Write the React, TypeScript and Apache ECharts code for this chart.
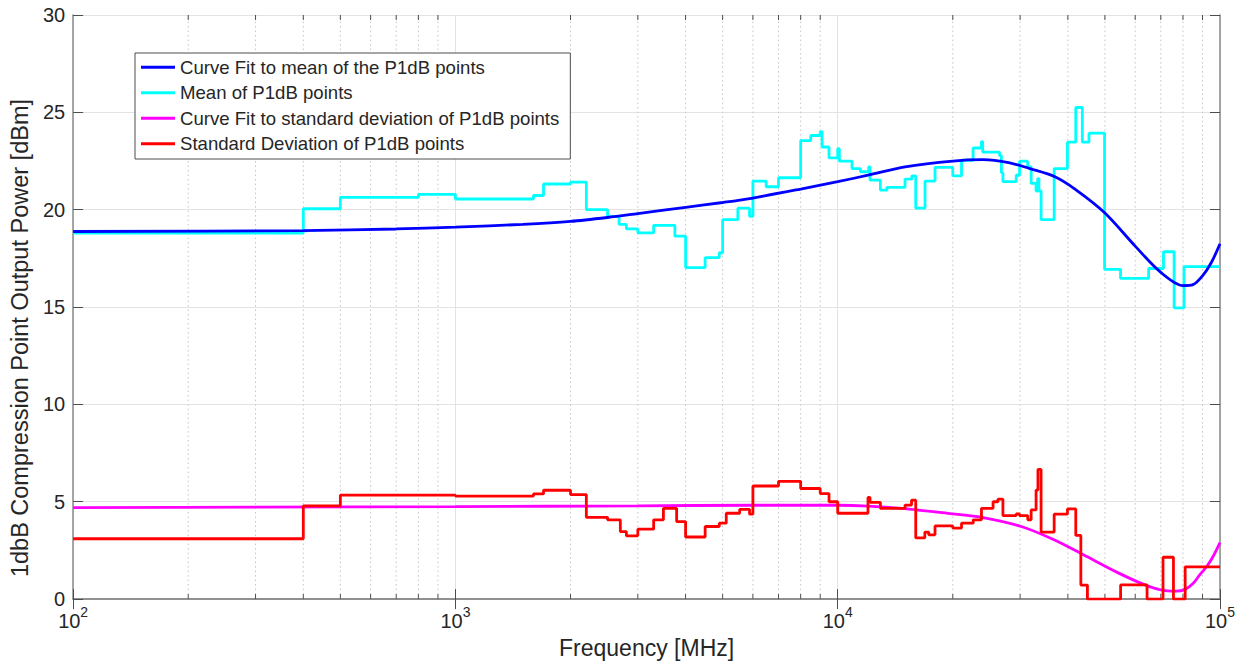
import React, { useEffect, useRef } from "react";
import * as echarts from "echarts";

const FONT = "'Liberation Sans', Arial, Helvetica, sans-serif";
const TEXT = "#262626";

const seriesNames = [
  "Curve Fit to mean of the P1dB points",
  "Mean of P1dB points",
  "Curve Fit to standard deviation of P1dB points",
  "Standard Deviation of P1dB points",
];
const seriesColors = ["#0000ff", "#00ffff", "#ff00ff", "#ff0000"];

const yTickMin = 0;
const yTickMax = 30;
const yTickStep = 5;
const xMin = 100;
const xMax = 100000;

const minorTicks = [
  200, 300, 400, 500, 600, 700, 800, 900,
  2000, 3000, 4000, 5000, 6000, 7000, 8000, 9000,
  20000, 30000, 40000, 50000, 60000, 70000, 80000, 90000,
];

// Curve fit to mean (blue)
const fitMeanFreq = [100, 400, 700, 1000, 1500, 2000, 2500, 3000, 4000, 5000, 6000, 8000, 10000, 12000, 15000, 20000, 24000, 28000, 32000, 37000, 42000, 50000, 60000, 70000, 80000, 85000, 90000, 95000, 100000];
const fitMeanVal = [18.88, 18.93, 19.01, 19.1, 19.25, 19.4, 19.6, 19.8, 20.12, 20.37, 20.6, 21.06, 21.44, 21.77, 22.2, 22.5, 22.57, 22.42, 22.1, 21.69, 21.02, 19.83, 18.13, 16.78, 16.1, 16.15, 16.6, 17.3, 18.25];

// Mean of P1dB points (cyan), step values starting at each frequency
const meanFreq = [100, 400, 500, 800, 1000, 1600, 1700, 2000, 2200, 2500, 2680, 2800, 3000, 3300, 3750, 4000, 4500, 4900, 5000, 5480, 5880, 6000, 6500, 7000, 8000, 8500, 9000, 9100, 9490, 10000, 10100, 10900, 11470, 12050, 12150, 12930, 13450, 15000, 15630, 16000, 16920, 17970, 20000, 21080, 22600, 23770, 23950, 26500, 26800, 27050, 29300, 29900, 31400, 32060, 33030, 33350, 33600, 34040, 36830, 39900, 41950, 43640, 45420, 49890, 54930, 65060, 71150, 75860, 80510, 100000];
const meanVal = [18.8, 20.05, 20.63, 20.79, 20.55, 20.73, 21.32, 21.42, 20.0, 19.64, 19.25, 19.02, 18.81, 19.2, 18.64, 17.03, 17.54, 17.79, 19.49, 20.08, 19.66, 21.47, 21.18, 21.64, 23.55, 23.81, 24.01, 23.22, 22.66, 23.13, 22.49, 22.11, 21.95, 22.2, 21.52, 21.01, 21.15, 21.57, 21.74, 20.08, 21.47, 22.17, 21.74, 22.54, 23.17, 23.5, 22.96, 22.78, 21.9, 21.44, 21.77, 22.49, 22.2, 21.35, 20.96, 21.6, 20.96, 19.49, 22.11, 23.47, 25.25, 23.47, 23.93, 16.94, 16.47, 16.98, 17.84, 14.96, 17.08, 17.08];

// Curve fit to standard deviation (magenta)
const fitStdFreq = [100, 300, 1000, 3000, 6000, 10000, 12000, 14700, 19900, 23800, 30200, 36800, 43800, 54000, 64600, 72800, 77000, 81000, 85000, 88700, 92500, 96000, 100000];
const fitStdVal = [4.7, 4.72, 4.75, 4.79, 4.82, 4.82, 4.78, 4.66, 4.38, 4.2, 3.73, 3.05, 2.29, 1.36, 0.68, 0.42, 0.41, 0.5, 0.8, 1.27, 1.7, 2.2, 2.9];

// Standard deviation of P1dB points (red), step values
const stdFreq = [100, 400, 500, 1000, 1600, 1700, 2000, 2200, 2500, 2700, 2800, 3000, 3300, 3500, 3790, 4000, 4500, 4900, 5110, 5540, 5880, 6000, 7000, 8000, 9000, 9490, 10000, 12000, 12150, 12930, 15000, 15600, 16000, 16900, 17300, 17970, 20000, 21080, 22620, 23770, 25490, 26250, 27050, 29300, 29900, 31420, 32060, 33030, 33400, 34040, 36830, 39900, 41950, 43250, 45000, 54950, 64450, 70950, 75550, 81070, 100000];
const stdVal = [3.1, 4.79, 5.34, 5.29, 5.4, 5.59, 5.37, 4.2, 4.07, 3.47, 3.25, 3.59, 4.07, 4.66, 3.98, 3.19, 3.73, 3.9, 4.41, 4.61, 4.36, 5.81, 6.05, 5.68, 5.42, 5.0, 4.41, 5.22, 4.97, 4.66, 4.83, 5.08, 3.14, 3.44, 3.3, 3.76, 3.65, 3.9, 4.07, 4.66, 5.0, 5.13, 4.29, 4.37, 4.29, 4.07, 4.58, 5.6, 6.66, 3.44, 4.36, 4.63, 3.27, 0.72, 0, 0.73, 0, 2.15, 0, 1.66, 1.66];

const zip = (xs: number[], ys: number[]) => xs.map((x, i) => [x, ys[i]]);

export default function App() {
  const ref = useRef<HTMLDivElement>(null);

  useEffect(() => {
    if (!ref.current) return;
    const chart = echarts.init(ref.current, undefined, { renderer: "svg" });

    const axisLineStyle = { color: "#8a8a8a", width: 1.5 };
    const tickStyle = { color: "#4d4d4d", width: 1 };

    const lineSeries = (idx: number, data: number[][], extra: any) => ({
      type: "line",
      name: seriesNames[idx],
      data,
      showSymbol: false,
      symbol: "none",
      color: seriesColors[idx],
      itemStyle: { color: seriesColors[idx] },
      lineStyle: { color: seriesColors[idx], width: 2.8 },
      emphasis: { disabled: true },
      clip: true,
      ...extra,
    });

    const option: any = {
      animation: false,
      backgroundColor: "#ffffff",
      textStyle: { fontFamily: FONT, color: TEXT },
      grid: { left: 66, right: 29, top: 15, bottom: 59, containLabel: false },
      legend: {
        orient: "vertical",
        left: 135,
        top: 53,
        data: seriesNames.map((name) => ({ name, icon: "rect" })),
        itemWidth: 34,
        itemHeight: 3,
        itemGap: 5,
        padding: [4, 11, 5, 6],
        borderColor: "#4d4d4d",
        borderWidth: 1,
        backgroundColor: "#ffffff",
        selectedMode: false,
        textStyle: { fontSize: 18.6, color: TEXT, fontFamily: FONT, lineHeight: 20.5 },
      },
      xAxis: [
        {
          type: "log",
          logBase: 10,
          min: xMin,
          max: xMax,
          position: "bottom",
          name: "Frequency [MHz]",
          nameLocation: "middle",
          nameGap: 31,
          nameTextStyle: { fontSize: 23, color: TEXT, fontFamily: FONT },
          axisLine: { show: true, lineStyle: axisLineStyle },
          axisTick: { show: true, inside: true, length: 10, lineStyle: tickStyle },
          axisLabel: {
            margin: 6,
            formatter: (v: number) => `{b|10}{s|${Math.round(Math.log10(v))}}`,
            rich: {
              b: { fontSize: 20, color: TEXT, fontFamily: FONT, verticalAlign: "bottom", lineHeight: 26 },
              s: { fontSize: 14, color: TEXT, fontFamily: FONT, verticalAlign: "top", lineHeight: 14 },
            },
          },
          splitLine: { show: true, lineStyle: { color: "#e3e3e3", width: 1 } },
        },
        {
          type: "log",
          logBase: 10,
          min: xMin,
          max: xMax,
          position: "top",
          axisLine: { show: true, lineStyle: axisLineStyle },
          axisTick: { show: true, inside: true, length: 10, lineStyle: tickStyle },
          axisLabel: { show: false },
          splitLine: { show: false },
        },
      ],
      yAxis: [
        {
          type: "value",
          min: yTickMin,
          max: yTickMax,
          interval: yTickStep,
          position: "left",
          name: "1dbB Compression Point Output Power [dBm]",
          nameLocation: "middle",
          nameGap: 27,
          nameTextStyle: { fontSize: 23.5, color: TEXT, fontFamily: FONT, padding: [0, 62, 0, 0] },
          axisLine: { show: true, lineStyle: axisLineStyle },
          axisTick: { show: true, inside: true, length: 10, lineStyle: tickStyle },
          axisLabel: { fontSize: 20, color: TEXT, fontFamily: FONT, margin: 8 },
          splitLine: { show: true, lineStyle: { color: "#e3e3e3", width: 1 } },
        },
        {
          type: "value",
          min: yTickMin,
          max: yTickMax,
          interval: yTickStep,
          position: "right",
          axisLine: { show: true, lineStyle: axisLineStyle },
          axisTick: { show: true, inside: true, length: 10, lineStyle: tickStyle },
          axisLabel: { show: false },
          splitLine: { show: false },
        },
      ],
      series: [
        {
          type: "custom",
          name: "minor-grid",
          silent: true,
          xAxisIndex: 0,
          yAxisIndex: 0,
          z: 1,
          data: minorTicks.map((f) => [f, yTickMin]),
          renderItem: (_params: any, api: any) => {
            const f = api.value(0);
            const b = api.coord([f, yTickMin]);
            const t = api.coord([f, yTickMax]);
            return {
              type: "group",
              children: [
                {
                  type: "line",
                  shape: { x1: b[0], y1: b[1], x2: t[0], y2: t[1] },
                  style: { stroke: "#c4c4c4", lineWidth: 1, lineDash: [1.5, 3] },
                },
                {
                  type: "line",
                  shape: { x1: b[0], y1: b[1], x2: b[0], y2: b[1] - 5 },
                  style: { stroke: "#4d4d4d", lineWidth: 1 },
                },
                {
                  type: "line",
                  shape: { x1: t[0], y1: t[1], x2: t[0], y2: t[1] + 5 },
                  style: { stroke: "#4d4d4d", lineWidth: 1 },
                },
              ],
            };
          },
        },
        lineSeries(1, zip(meanFreq, meanVal), { step: "end", z: 2 }),
        lineSeries(0, zip(fitMeanFreq, fitMeanVal), { smooth: 0.3, z: 3 }),
        lineSeries(2, zip(fitStdFreq, fitStdVal), { smooth: 0.3, z: 3 }),
        lineSeries(3, zip(stdFreq, stdVal), { step: "end", z: 4 }),
      ],
    };

    chart.setOption(option);
    return () => chart.dispose();
  }, []);

  return (
    <div
      ref={ref}
      style={{ position: "fixed", left: 0, top: 0, width: 1249, height: 664, background: "#fff" }}
    />
  );
}
